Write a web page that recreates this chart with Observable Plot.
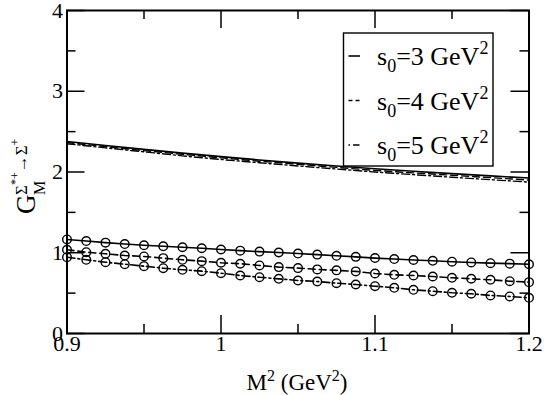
<!DOCTYPE html>
<html>
<head>
<meta charset="utf-8">
<script src="https://cdn.jsdelivr.net/npm/d3@7"></script>
<script src="https://cdn.jsdelivr.net/npm/@observablehq/plot@0.6"></script>
<style>
  html, body { margin: 0; padding: 0; background: #fff; }
</style>
</head>
<body>
<div id="chart"></div>
<script>
// ---- data ----
const xUpper = [0.9, 0.925, 0.95, 0.975, 1.0, 1.025, 1.05, 1.075, 1.1, 1.125, 1.15, 1.175, 1.2];
const s3Upper = [2.378, 2.328, 2.280, 2.234, 2.190, 2.149, 2.110, 2.074, 2.040, 2.009, 1.980, 1.952, 1.925];
const s4Upper = [2.365, 2.314, 2.265, 2.219, 2.175, 2.134, 2.095, 2.057, 2.020, 1.989, 1.960, 1.930, 1.900];
const s5Upper = [2.350, 2.299, 2.250, 2.200, 2.155, 2.114, 2.075, 2.037, 2.000, 1.967, 1.935, 1.905, 1.875];

const xCircle = [0.9, 0.9125, 0.925, 0.9375, 0.95, 0.9625, 0.975, 0.9875, 1.0, 1.0125, 1.025, 1.0375, 1.05,
                 1.0625, 1.075, 1.0875, 1.1, 1.1125, 1.125, 1.1375, 1.15, 1.1625, 1.175, 1.1875, 1.2];
const c1Circle = [1.165, 1.145, 1.125, 1.108, 1.093, 1.080, 1.068, 1.056, 1.040, 1.026, 1.014, 1.003, 0.990,
                  0.977, 0.962, 0.949, 0.934, 0.922, 0.910, 0.900, 0.889, 0.880, 0.871, 0.865, 0.857];
const c2Circle = [1.037, 1.007, 0.987, 0.966, 0.954, 0.933, 0.913, 0.896, 0.876, 0.864, 0.843, 0.822, 0.810,
                  0.794, 0.782, 0.769, 0.743, 0.727, 0.718, 0.706, 0.690, 0.678, 0.665, 0.648, 0.636];
const c3Circle = [0.945, 0.913, 0.883, 0.858, 0.834, 0.809, 0.789, 0.772, 0.747, 0.718, 0.697, 0.677, 0.656,
                  0.644, 0.623, 0.607, 0.586, 0.566, 0.541, 0.524, 0.504, 0.492, 0.471, 0.459, 0.442];

const xMajor = [0.9, 1.0, 1.1, 1.2];
const xMinor = [0.95, 1.05, 1.15];
const xTickLabels = ["0.9", "1", "1.1", "1.2"];
const yMajor = [0, 1, 2, 3, 4];
const yMinor = [0.5, 1.5, 2.5, 3.5];
const yTickLabels = ["0", "1", "2", "3", "4"];
const legendLabels = ["3", "4", "5"];

// ---- build tables ----
const mk = (xs, ys) => xs.map((x, i) => ({x, y: ys[i]}));
const up3 = mk(xUpper, s3Upper), up4 = mk(xUpper, s4Upper), up5 = mk(xUpper, s5Upper);
const ci1 = mk(xCircle, c1Circle), ci2 = mk(xCircle, c2Circle), ci3 = mk(xCircle, c3Circle);

const W = 545, H = 395;
const mL = 66.5, mR = 16.5, mT = 10, mB = 62;
const fW = W - mL - mR, fH = H - mT - mB;
const majorLen = 18, minorLen = 9;

const dashA = "7,4";
const dashB = "8,3,2,3";
const FONT = "'Liberation Serif', 'Times New Roman', serif";

const plot = Plot.plot({
  width: W, height: H,
  marginLeft: mL, marginRight: mR, marginTop: mT, marginBottom: mB,
  style: {fontFamily: FONT, fontSize: "21px", background: "#fff", color: "#000"},
  x: {domain: [0.9, 1.2]},
  y: {domain: [0, 4]},
  marks: [
    // ticks (inward on all four sides)
    Plot.ruleX(xMajor, {x: d => d, insetTop: fH - majorLen, stroke: "#000", strokeWidth: 1.5}),
    Plot.ruleX(xMajor, {x: d => d, insetBottom: fH - majorLen, stroke: "#000", strokeWidth: 1.5}),
    Plot.ruleX(xMinor, {x: d => d, insetTop: fH - minorLen, stroke: "#000", strokeWidth: 1.5}),
    Plot.ruleX(xMinor, {x: d => d, insetBottom: fH - minorLen, stroke: "#000", strokeWidth: 1.5}),
    Plot.ruleY(yMajor, {y: d => d, insetRight: fW - majorLen, stroke: "#000", strokeWidth: 1.5}),
    Plot.ruleY(yMajor, {y: d => d, insetLeft: fW - majorLen, stroke: "#000", strokeWidth: 1.5}),
    Plot.ruleY(yMinor, {y: d => d, insetRight: fW - minorLen, stroke: "#000", strokeWidth: 1.5}),
    Plot.ruleY(yMinor, {y: d => d, insetLeft: fW - minorLen, stroke: "#000", strokeWidth: 1.5}),
    // tick labels
    Plot.axisX({ticks: xMajor, tickSize: 0, tickPadding: 2, fontSize: 22, label: null,
                tickFormat: d => xTickLabels[xMajor.indexOf(d)]}),
    Plot.axisY({ticks: yMajor, tickSize: 0, tickPadding: 4, fontSize: 22, label: null,
                tickFormat: d => yTickLabels[yMajor.indexOf(d)]}),
    // upper curves
    Plot.line(up3, {x: "x", y: "y", stroke: "#000", strokeWidth: 1.6}),
    Plot.line(up4, {x: "x", y: "y", stroke: "#000", strokeWidth: 1.4, strokeDasharray: dashA}),
    Plot.line(up5, {x: "x", y: "y", stroke: "#000", strokeWidth: 1.4, strokeDasharray: dashB}),
    // circle series
    Plot.line(ci1, {x: "x", y: "y", stroke: "#000", strokeWidth: 1.6}),
    Plot.line(ci2, {x: "x", y: "y", stroke: "#000", strokeWidth: 1.6, strokeDasharray: dashA}),
    Plot.line(ci3, {x: "x", y: "y", stroke: "#000", strokeWidth: 1.6, strokeDasharray: dashB}),
    Plot.dot(ci1, {x: "x", y: "y", r: 4.3, stroke: "#000", strokeWidth: 1.4, fill: "none"}),
    Plot.dot(ci2, {x: "x", y: "y", r: 4.3, stroke: "#000", strokeWidth: 1.4, fill: "none"}),
    Plot.dot(ci3, {x: "x", y: "y", r: 4.3, stroke: "#000", strokeWidth: 1.4, fill: "none"}),
    Plot.frame({stroke: "#000", strokeWidth: 2})
  ]
});

const svg = d3.select(plot);

// legend
const lg = svg.append("g").style("font-family", FONT).attr("text-anchor", "start");
lg.append("rect").attr("x", 343.5).attr("y", 33).attr("width", 149.5).attr("height", 133)
  .attr("fill", "#fff").attr("stroke", "#000").attr("stroke-width", 1.4);
const rowY = [56, 100.5, 145];
legendLabels.forEach((lab, i) => {
  const y = rowY[i];
  lg.append("line").attr("x1", 348.5).attr("x2", 360).attr("y1", y).attr("y2", y)
    .attr("stroke", "#000").attr("stroke-width", 1.6)
    .attr("stroke-dasharray", i === 0 ? null : (i === 1 ? "4,3" : "1.5,3,5,0"));
  const t = lg.append("text").attr("x", 377).attr("y", y + 9).style("font-size", "26px");
  t.append("tspan").text("s");
  t.append("tspan").attr("dy", 7).style("font-size", "18px").text("0");
  t.append("tspan").attr("dy", -7).text("=" + lab + " GeV");
  t.append("tspan").attr("dy", -11).style("font-size", "18px").text("2");
});

// x label
const xl = svg.append("text").attr("x", 297).attr("y", 390).attr("text-anchor", "middle")
  .style("font-family", FONT).style("font-size", "23px");
xl.append("tspan").text("M");
xl.append("tspan").attr("dy", -9).style("font-size", "16px").text("2");
xl.append("tspan").attr("dy", 9).text(" (GeV");
xl.append("tspan").attr("dy", -9).style("font-size", "16px").text("2");
xl.append("tspan").attr("dy", 9).text(")");

// y label (rotated)
const yl = svg.append("g").attr("transform", "rotate(-90)").style("font-family", FONT).attr("text-anchor", "start");
yl.append("text").attr("x", -214).attr("y", 35).style("font-size", "27px").text("G");
yl.append("text").attr("x", -195).attr("y", 45).style("font-size", "16px").text("M");
const ys = yl.append("text").attr("x", -195).attr("y", 27).style("font-size", "17px");
ys.append("tspan").text("Σ");
ys.append("tspan").attr("dy", -8).style("font-size", "12px").text("*+");
ys.append("tspan").attr("dy", 8).text("→Σ");
ys.append("tspan").attr("dy", -8).style("font-size", "12px").text("+");

document.getElementById("chart").appendChild(plot);
</script>
</body>
</html>
